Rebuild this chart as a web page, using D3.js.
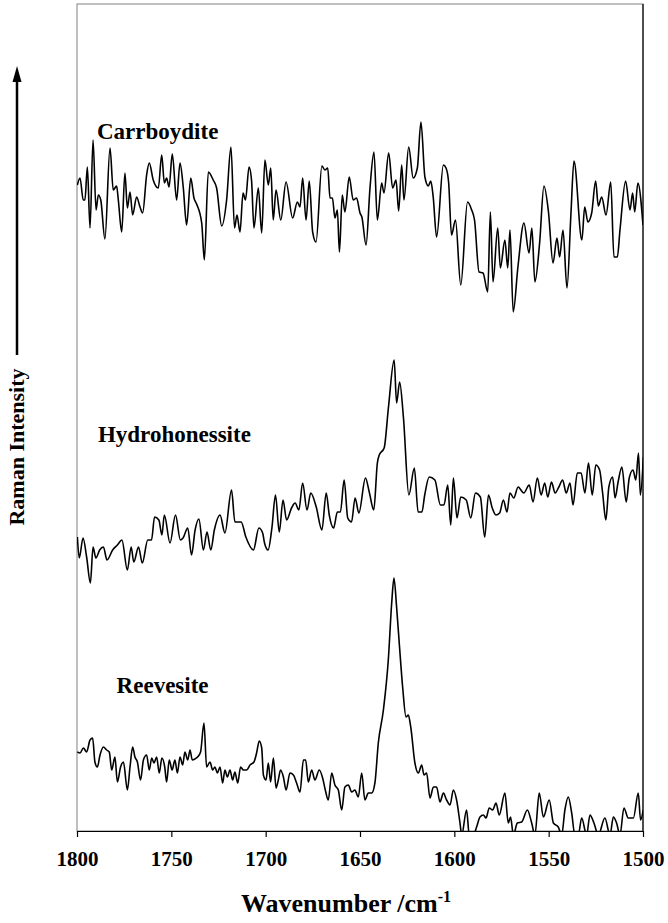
<!DOCTYPE html>
<html>
<head>
<meta charset="utf-8">
<script src="https://cdn.jsdelivr.net/npm/d3@7"></script>
<style>
  body { margin: 0; background: #fff; }
  svg { display: block; }
</style>
</head>
<body>
<div id="chart"></div>
<script>
// Raman spectra, 1800-1500 cm-1, three stacked traces (arbitrary intensity units)
const xTicks = [1800, 1750, 1700, 1650, 1600, 1550, 1500];

const carrboydite = [
  [1799.8,643],[1798.4,650],[1796.7,628],[1795.8,628],[1794.5,661],[1793.1,600],[1791.5,688],[1789.9,618],
  [1788.7,633],[1787.4,628],[1785.2,589],[1782.5,680],[1780.8,638],[1779.0,642],[1778.1,628],[1776.3,596],
  [1774.6,655],[1773.3,620],[1771.9,636],[1770.5,613],[1768.4,631],[1766.6,621],[1765.2,615],[1763.1,653],
  [1761.7,665],[1759.6,648],[1756.9,640],[1755.1,673],[1753.7,645],[1752.5,650],[1751.2,641],[1749.5,674],
  [1747.2,628],[1745.4,665],[1743.7,641],[1741.9,603],[1739.7,650],[1738.0,630],[1736.6,624],[1733.9,605],
  [1732.5,568],[1730.4,656],[1727.8,648],[1726.0,640],[1723.3,602],[1720.7,628],[1718.4,681],[1716.5,600],
  [1715.2,613],[1713.6,596],[1712.0,635],[1710.7,628],[1708.8,661],[1707.5,648],[1706.2,600],[1703.9,640],
  [1702.1,595],[1700.4,668],[1698.6,643],[1697.3,660],[1696.0,608],[1694.5,638],[1692.0,608],[1689.2,646],
  [1685.7,610],[1683.2,626],[1681.8,621],[1680.4,650],[1678.6,608],[1676.9,647],[1675.1,596],[1673.3,586],
  [1670.2,662],[1668.6,658],[1667.1,660],[1665.9,630],[1664.6,630],[1663.3,610],[1662.0,618],[1660.9,576],
  [1659.4,633],[1658.0,616],[1655.7,651],[1653.6,628],[1651.8,630],[1650.0,615],[1649.0,611],[1646.8,583],
  [1644.7,640],[1642.6,676],[1640.8,608],[1638.5,645],[1637.3,635],[1634.8,675],[1632.7,640],[1630.9,648],
  [1629.5,617],[1627.9,663],[1626.7,628],[1624.2,681],[1621.8,650],[1619.6,660],[1617.7,706],[1615.6,651],
  [1613.8,642],[1612.5,647],[1611.2,631],[1609.4,591],[1605.8,663],[1604.4,660],[1603.0,645],[1601.5,593],
  [1599.4,608],[1596.6,543],[1593.0,626],[1590.8,618],[1589.3,608],[1586.9,556],[1584.8,555],[1582.3,536],
  [1580.9,616],[1579.5,546],[1577.0,600],[1575.6,560],[1573.2,588],[1571.7,560],[1570.5,598],[1568.8,516],
  [1566.3,561],[1563.1,605],[1560.4,575],[1558.9,600],[1557.3,546],[1554.8,585],[1552.5,642],[1550.1,616],
  [1547.7,565],[1545.6,590],[1544.2,571],[1542.4,598],[1540.3,540],[1538.2,614],[1536.6,667],[1532.4,588],
  [1530.9,621],[1529.2,606],[1527.2,615],[1525.1,647],[1523.7,622],[1521.9,631],[1519.6,613],[1517.1,646],
  [1515.4,571],[1513.6,571],[1512.2,598],[1509.2,647],[1506.9,618],[1505.5,635],[1504.4,616],[1502.7,645],
  [1500.0,603]
];

const hydrohonessite = [
  [1799.8,291],[1798.8,270],[1796.8,290],[1794.9,271],[1792.9,245],[1791.5,281],[1790.0,270],[1788.0,278],
  [1786.0,281],[1784.1,268],[1781.1,278],[1778.6,283],[1776.2,288],[1773.3,258],[1771.3,281],[1769.9,266],
  [1767.4,281],[1765.4,265],[1762.5,288],[1760.5,288],[1758.9,311],[1756.6,308],[1755.0,293],[1753.7,313],
  [1750.7,285],[1747.8,313],[1745.2,288],[1743.8,290],[1741.3,300],[1739.3,273],[1737.4,298],[1735.4,309],
  [1733.0,278],[1731.1,296],[1729.1,278],[1727.2,298],[1724.2,313],[1721.6,295],[1718.1,338],[1716.3,306],
  [1713.0,306],[1710.5,291],[1706.5,278],[1703.6,300],[1701.6,295],[1700.6,285],[1698.7,278],[1696.7,300],
  [1694.8,333],[1692.8,296],[1690.8,328],[1688.9,308],[1686.3,320],[1684.4,325],[1682.4,318],[1680.4,345],
  [1678.1,318],[1676.1,335],[1673.2,321],[1670.2,298],[1667.9,335],[1666.3,313],[1664.0,300],[1662.0,316],
  [1660.4,316],[1658.4,348],[1656.5,310],[1654.5,306],[1652.6,330],[1650.6,315],[1647.1,350],[1645.1,336],
  [1642.7,318],[1640.8,365],[1639.8,373],[1637.2,380],[1634.9,421],[1631.9,468],[1630.6,425],[1629.0,446],
  [1627.0,411],[1624.1,333],[1621.2,360],[1619.2,316],[1617.2,316],[1615.7,333],[1613.3,351],[1610.3,348],
  [1607.4,323],[1605.5,323],[1603.5,343],[1601.9,303],[1600.5,350],[1598.6,310],[1596.6,331],[1593.7,328],
  [1591.3,310],[1588.8,335],[1586.2,331],[1583.9,291],[1581.9,333],[1579.9,320],[1578.0,313],[1576.0,315],
  [1574.0,328],[1572.1,316],[1570.5,335],[1568.5,330],[1566.2,341],[1563.2,335],[1560.3,343],[1558.3,326],
  [1556.0,350],[1554.0,333],[1552.1,345],[1550.5,331],[1548.5,346],[1546.6,335],[1544.6,341],[1542.6,348],
  [1540.7,335],[1538.7,345],[1537.1,323],[1534.8,355],[1532.8,355],[1530.8,335],[1528.9,365],[1526.9,333],
  [1525.0,363],[1523.0,358],[1521.4,335],[1519.7,308],[1518.1,341],[1516.1,351],[1514.8,330],[1513.2,346],
  [1511.2,361],[1508.9,326],[1507.3,350],[1505.3,358],[1503.8,348],[1502.4,375],[1501.4,333],[1499.8,371]
];

const reevesite = [
  [1799.8,76],[1798.4,75],[1796.6,80],[1794.9,76],[1793.1,88],[1791.7,90],[1790.5,66],[1789.2,61],
  [1787.8,73],[1786.0,81],[1784.3,78],[1782.9,76],[1781.6,58],[1779.9,71],[1778.6,46],[1776.9,61],
  [1775.4,66],[1773.3,38],[1771.9,61],[1770.5,81],[1769.3,71],[1768.0,66],[1766.3,48],[1764.8,68],
  [1763.1,73],[1761.7,58],[1760.4,70],[1759.2,65],[1757.8,71],[1756.4,55],[1755.0,70],[1753.5,61],
  [1752.5,46],[1751.1,68],[1749.6,58],[1748.1,68],[1746.8,55],[1745.4,71],[1744.0,63],[1742.8,76],
  [1741.3,68],[1740.1,78],[1738.9,68],[1737.5,69],[1736.1,71],[1734.5,76],[1732.7,105],[1731.3,61],
  [1729.5,66],[1728.1,58],[1726.9,61],[1725.6,55],[1724.2,61],[1722.8,45],[1721.6,58],[1720.3,51],
  [1718.9,58],[1717.5,48],[1716.3,56],[1714.8,45],[1713.3,61],[1711.8,58],[1710.1,58],[1708.3,63],
  [1706.2,66],[1704.8,75],[1703.4,87],[1702.1,80],[1701.2,53],[1699.8,48],[1698.6,65],[1697.4,46],
  [1695.9,70],[1694.5,40],[1693.3,48],[1692.1,58],[1690.6,51],[1689.2,38],[1687.1,55],[1685.3,53],
  [1683.6,45],[1681.8,36],[1680.0,68],[1678.8,68],[1677.4,46],[1675.6,58],[1673.9,48],[1671.6,58],
  [1669.8,50],[1668.4,38],[1666.8,28],[1665.0,55],[1663.3,43],[1661.5,38],[1659.7,18],[1658.0,41],
  [1656.2,43],[1654.4,36],[1652.7,38],[1650.9,31],[1649.1,55],[1647.4,28],[1645.6,35],[1643.8,35],
  [1642.1,45],[1640.3,85],[1637.6,118],[1635.0,168],[1633.2,225],[1632.0,250],[1630.6,221],[1629.2,185],
  [1627.4,141],[1625.6,111],[1624.4,113],[1623.1,101],[1620.9,65],[1619.1,55],[1617.3,63],[1616.1,53],
  [1614.7,55],[1612.9,30],[1611.1,41],[1609.4,41],[1607.6,26],[1605.8,35],[1604.1,28],[1602.3,23],
  [1600.5,38],[1598.8,28],[1597.0,5],[1596.1,-7],[1593.5,18],[1592.1,-7],[1590.0,-7],[1588.2,1],
  [1586.4,11],[1584.6,13],[1583.2,10],[1581.5,20],[1579.7,18],[1577.9,25],[1576.2,13],[1573.2,35],
  [1571.4,5],[1570.2,11],[1568.7,-7],[1566.6,5],[1564.3,6],[1561.3,18],[1559.0,5],[1557.3,-7],
  [1555.0,35],[1552.8,11],[1549.7,28],[1547.5,5],[1544.9,1],[1543.1,-7],[1541.4,18],[1539.6,31],
  [1537.8,15],[1536.1,-7],[1534.3,-7],[1532.5,10],[1529.9,-7],[1528.1,13],[1526.0,5],[1523.7,-7],
  [1520.2,10],[1517.5,-7],[1515.7,11],[1514.0,5],[1512.2,-7],[1510.1,20],[1507.8,10],[1505.1,10],
  [1502.5,35],[1501.3,8],[1499.9,18]
];

const seriesData = [carrboydite, hydrohonessite, reevesite];
const seriesNames = ["Carrboydite", "Hydrohonessite", "Reevesite"];
// label anchor in data units (wavenumber, intensity)
const labelAnchors = [[1789.4, 689], [1788.9, 386], [1779.0, 135]];

const width = 668, height = 923;
const plot = { left: 77, right: 643, top: 4, bottom: 831 };
const serif = "'Times New Roman', 'Liberation Serif', serif";

const x = d3.scaleLinear().domain([1800, 1500]).range([plot.left, plot.right]);
const y = d3.scaleLinear().domain([-3, 825]).range([plot.bottom, 3]);

const svg = d3.select("#chart").append("svg")
  .attr("width", width)
  .attr("height", height);

svg.append("clipPath").attr("id", "clip")
  .append("rect")
  .attr("x", plot.left).attr("y", plot.top)
  .attr("width", plot.right - plot.left).attr("height", plot.bottom - plot.top);

// frame
svg.append("rect")
  .attr("x", plot.left).attr("y", plot.top)
  .attr("width", plot.right - plot.left).attr("height", plot.bottom - plot.top)
  .attr("fill", "none")
  .attr("stroke", "#808080")
  .attr("stroke-width", 1);
svg.append("line")
  .attr("x1", plot.right).attr("x2", plot.right)
  .attr("y1", plot.top).attr("y2", plot.bottom)
  .attr("stroke", "#000").attr("stroke-width", 1.2);

// spectra
const line = d3.line()
  .x(d => x(d[0]))
  .y(d => y(d[1]))
  .curve(d3.curveMonotoneX);

svg.append("g")
  .attr("clip-path", "url(#clip)")
  .selectAll("path")
  .data(seriesData)
  .join("path")
  .attr("d", line)
  .attr("fill", "none")
  .attr("stroke", "#000")
  .attr("stroke-width", 1.6)
  .attr("stroke-linejoin", "round");

// series names
svg.append("g")
  .selectAll("text")
  .data(seriesNames)
  .join("text")
  .attr("x", (d, i) => x(labelAnchors[i][0]))
  .attr("y", (d, i) => y(labelAnchors[i][1]))
  .attr("font-family", serif)
  .attr("font-weight", "bold")
  .attr("font-size", "23px")
  .text(d => d);

// x axis
const xAxis = svg.append("g")
  .attr("transform", `translate(0,${plot.bottom})`)
  .call(d3.axisBottom(x)
    .tickValues(xTicks)
    .tickFormat(d3.format("d"))
    .tickSize(6)
    .tickPadding(14)
    .tickSizeOuter(0));
xAxis.select(".domain").attr("stroke", "#000").attr("stroke-width", 1.2);
xAxis.selectAll(".tick line").attr("stroke", "#000").attr("stroke-width", 1.2);
xAxis.selectAll(".tick text")
  .attr("font-family", serif)
  .attr("font-weight", "bold")
  .attr("font-size", "21px")
  .attr("fill", "#000");

// x axis title
const xTitle = svg.append("text")
  .attr("x", 346)
  .attr("y", 912)
  .attr("text-anchor", "middle")
  .attr("font-family", serif)
  .attr("font-weight", "bold")
  .attr("font-size", "26px");
xTitle.append("tspan").text("Wavenumber /cm");
xTitle.append("tspan").attr("dy", -10).attr("font-size", "16px").text("-1");

// y axis title with arrow
svg.append("text")
  .attr("transform", "translate(24,447) rotate(-90)")
  .attr("text-anchor", "middle")
  .attr("font-family", serif)
  .attr("font-weight", "bold")
  .attr("font-size", "22px")
  .text("Raman Intensity");

svg.append("line")
  .attr("x1", 17).attr("x2", 17)
  .attr("y1", 355).attr("y2", 80)
  .attr("stroke", "#000")
  .attr("stroke-width", 2.5);
svg.append("path")
  .attr("d", "M17,66 L12.5,82 L21.5,82 Z")
  .attr("fill", "#000");
</script>
</body>
</html>
